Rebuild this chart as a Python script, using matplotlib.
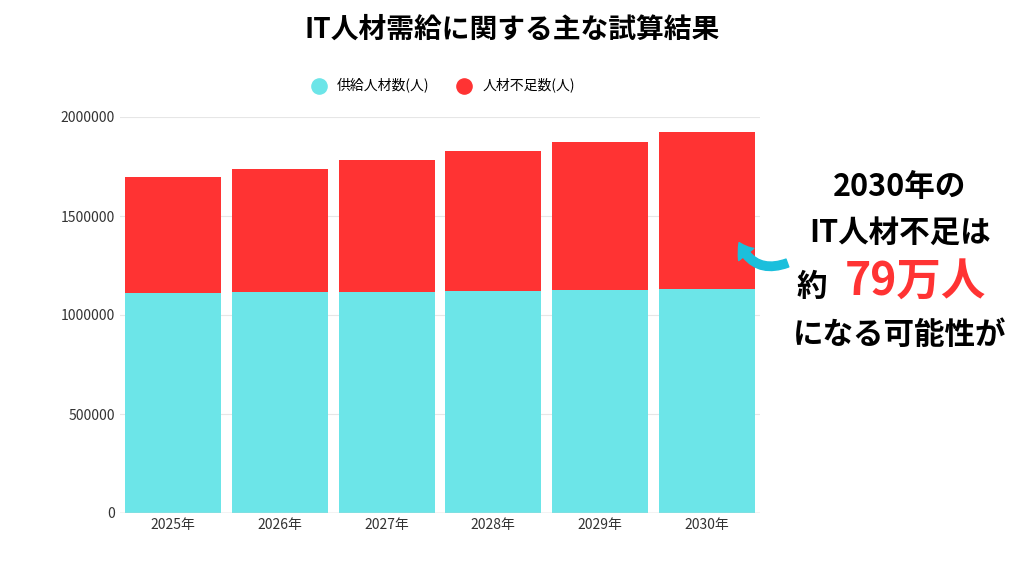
import matplotlib
matplotlib.use("Agg")
import matplotlib.pyplot as plt
from matplotlib.patches import FancyArrowPatch

plt.rcParams['font.family'] = 'Noto Sans CJK JP'

years = ["2025年", "2026年", "2027年", "2028年", "2029年", "2030年"]
supply = [1110000, 1114000, 1118000, 1122000, 1127000, 1133000]
shortage = [587000, 623000, 665000, 706000, 747000, 789000]

fig = plt.figure(figsize=(10.24, 5.76), dpi=100)
ax = fig.add_axes([120/1024, 1-513/576, 640/1024, 396/576])
x = range(len(years))
ax.bar(x, supply, width=0.9, color="#6ce5e8", zorder=2)
ax.bar(x, shortage, bottom=supply, width=0.9, color="#ff3333", zorder=2)
ax.set_xlim(-0.5, 5.5)
ax.set_ylim(0, 2000000)
ax.set_yticks([0, 500000, 1000000, 1500000, 2000000])
ax.set_yticklabels(["0", "500000", "1000000", "1500000", "2000000"])
ax.set_xticks(list(x))
ax.set_xticklabels(years)
ax.tick_params(length=0, labelsize=10, colors="#333333")
ax.grid(axis="y", color="#e6e6e6", zorder=0)
for s in ax.spines.values():
    s.set_visible(False)
ax.axhline(0, color="#cccccc", lw=1, zorder=3)

ax.scatter([], [], s=120, color="#6ce5e8", label="供給人材数(人)")
ax.scatter([], [], s=120, color="#ff3333", label="人材不足数(人)")
ax.legend(loc="lower center", bbox_to_anchor=(0.5, 1.03), ncol=2, frameon=False,
          fontsize=10, handletextpad=0.3, columnspacing=1.5)

fig.text(0.5, 1-30/576, "IT人材需給に関する主な試算結果", ha="center", va="center",
         fontsize=20, fontweight="bold")

cx = 900/1024
fig.text(cx, 1-187/576, "2030年の", ha="center", va="center", fontsize=22, fontweight="bold")
fig.text(cx, 1-233/576, "IT人材不足は", ha="center", va="center", fontsize=22, fontweight="bold")
fig.text(812/1024, 1-287/576, "約", ha="center", va="center", fontsize=22, fontweight="bold")
fig.text(915/1024, 1-283/576, "79万人", ha="center", va="center", fontsize=32,
         fontweight="bold", color="#ff3333")
fig.text(cx, 1-335/576, "になる可能性が", ha="center", va="center", fontsize=22, fontweight="bold")

arr = FancyArrowPatch((790/1024, 1-262/576), (738/1024, 1-240/576),
                      transform=fig.transFigure, connectionstyle="arc3,rad=-0.5",
                      arrowstyle="simple,head_width=14,head_length=10,tail_width=6",
                      color="#1bbfdc")
fig.patches.append(arr)

fig.savefig("out.png", dpi=100)
